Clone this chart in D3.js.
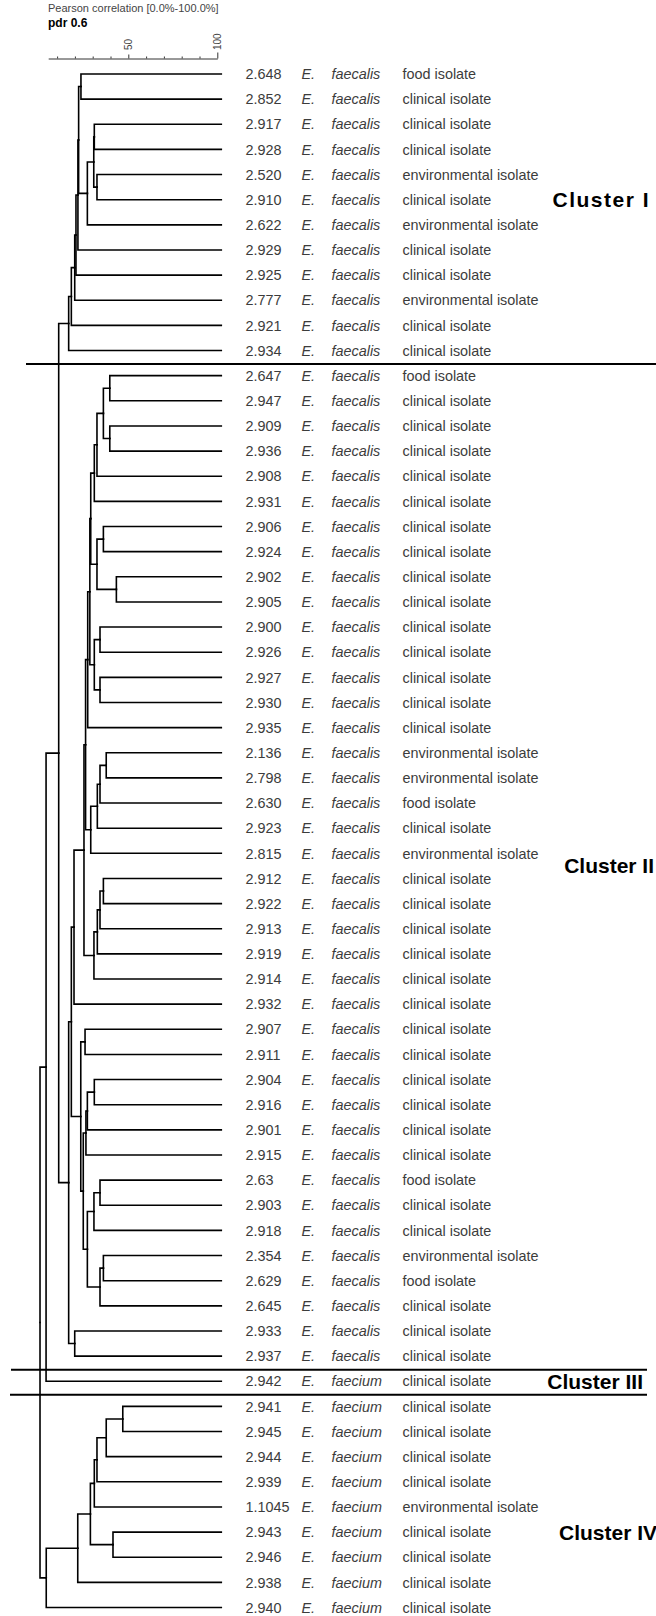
<html>

<head>
    <meta charset="utf-8">
    <title>Pearson correlation dendrogram</title>
    <style>
        body {
            margin: 0;
            padding: 0;
            background-color: #fff;
        }

        svg text {
            font-family: "Liberation Sans", Arial, sans-serif;
        }

        .row text {
            font-size: 14.4px;
            fill: #3c3c3c;
        }

        .row .it {
            font-style: italic;
        }

        .link {
            fill: none;
            stroke: #000;
            stroke-width: 1.6px;
            stroke-linecap: square;
        }

        .sep {
            stroke: #000;
            stroke-width: 2px;
        }

        .cluster-label {
            font-size: 21px;
            font-weight: bold;
            fill: #000;
            text-anchor: end;
        }

        .axis path,
        .axis line {
            stroke: #333;
        }
    </style>
</head>

<body>
    <svg id="chart" width="656" height="1616"></svg>
    <script src="https://cdn.jsdelivr.net/npm/d3@7"></script>
    <script>
        // strain numbers, top to bottom
        const strainIds = [
            "2.648", "2.852", "2.917", "2.928", "2.520", "2.910", "2.622", "2.929", "2.925", "2.777", "2.921", "2.934",
            "2.647", "2.947", "2.909", "2.936", "2.908", "2.931", "2.906", "2.924", "2.902", "2.905", "2.900", "2.926",
            "2.927", "2.930", "2.935", "2.136", "2.798", "2.630", "2.923", "2.815", "2.912", "2.922", "2.913", "2.919",
            "2.914", "2.932", "2.907", "2.911", "2.904", "2.916", "2.901", "2.915", "2.63", "2.903", "2.918", "2.354",
            "2.629", "2.645", "2.933", "2.937",
            "2.942",
            "2.941", "2.945", "2.944", "2.939", "1.1045", "2.943", "2.946", "2.938", "2.940"
        ];

        // F = faecalis, M = faecium
        const speciesCodes = "FFFFFFFFFFFF" + "FFFFFFFFFFFFFFFFFFFFFFFFFFFFFFFFFFFFFFFF" + "M" + "MMMMMMMMM";
        const speciesNames = { F: "faecalis", M: "faecium" };

        // c = clinical, e = environmental, f = food
        const sourceCodes = "fcccececcecc" +
            "f" + "cccccccccccccc" + "eefce" + "cccccccccccc" + "fccefccc" +
            "c" +
            "ccccecccc";
        const sourceNames = { c: "clinical isolate", e: "environmental isolate", f: "food isolate" };

        // linkage: [child a, child b, similarity %]; leaves are 0..61, merge i becomes node 62 + i
        const merges = [
            [0, 1, 23.4], [2, 3, 30.9], [4, 5, 32.4], [63, 64, 30.6], [65, 6, 27.0], [62, 66, 22.1],
            [67, 7, 21.7], [68, 8, 20.6], [69, 9, 19.9], [70, 10, 18.0], [71, 11, 16.5],
            [12, 13, 39.6], [14, 15, 39.6], [73, 74, 36.0], [75, 16, 32.4], [76, 17, 30.9],
            [18, 19, 36.0], [20, 21, 43.3], [78, 79, 32.4], [77, 80, 28.9],
            [22, 23, 34.1], [24, 25, 34.1], [82, 83, 30.9], [81, 84, 28.4], [85, 26, 27.2],
            [27, 28, 37.6], [87, 29, 34.1], [88, 30, 32.6], [89, 31, 28.9], [86, 90, 26.0],
            [32, 33, 36.0], [92, 34, 34.1], [93, 35, 32.6], [94, 36, 30.7], [91, 95, 25.1],
            [96, 37, 19.5],
            [38, 39, 25.7], [40, 41, 30.9], [99, 42, 27.0], [100, 43, 26.2],
            [44, 45, 34.1], [102, 46, 30.7], [47, 48, 36.0], [104, 49, 34.1], [103, 105, 27.0],
            [101, 106, 24.7], [98, 107, 23.3], [97, 108, 18.0],
            [50, 51, 19.9], [109, 110, 16.5],
            [72, 111, 10.9], [112, 52, 3.8],
            [53, 54, 46.9], [114, 55, 37.6], [115, 56, 32.4], [116, 57, 30.9], [58, 59, 41.4],
            [117, 118, 28.7], [119, 60, 21.6], [120, 61, 3.9],
            [113, 121, 0.4]
        ];

        const clusterNames = ["Cluster I", "Cluster II", "Cluster III", "Cluster IV"];
        const clusterFirstRow = [0, 12, 52, 53];
        const clusterLabelRow = [5, 31.5, 52, 58];

        const axisTicks = [10, 20, 30, 40, 50, 60, 70, 80, 90, 100];
        const axisLabels = [50, 100];

        // layout
        const svg = d3.select("#chart");
        const n = strainIds.length;
        const x = d3.scaleLinear().domain([0, 100]).range([39.3, 217.3]);
        const y = d3.scaleLinear().domain([0, n - 1]).range([74, 1607.5]);
        const leafEnd = x(100) + 4;
        const labelEnd = [650, 654, 643, 657];
        const labelSpacing = [1.5, 0, 0, 0];
        const sepStart = [26, 11, 10];
        const sepEnd = [656, 647, 647];

        // build tree from linkage
        const nodes = strainIds.map((id, i) => ({ row: i, h: 100 }));
        merges.forEach(m => nodes.push({ h: m[2], children: [nodes[m[0]], nodes[m[1]]] }));
        const root = d3.hierarchy(nodes[nodes.length - 1]);
        root.eachAfter(d => {
            d.py = d.children ? d3.mean(d.children, c => c.py) : y(d.data.row);
            d.px = d.children ? x(d.data.h) : leafEnd;
        });

        // header
        svg.append("text")
            .attr("x", 48).attr("y", 12)
            .style("font-size", "11px").style("fill", "#444")
            .text("Pearson correlation [0.0%-100.0%]");
        svg.append("text")
            .attr("x", 48).attr("y", 26.5)
            .style("font-size", "12px").style("font-weight", "bold")
            .text("pdr 0.6");

        // axis
        const axisScale = x.copy().domain([5, 100]).range([x(5), x(100)]);
        const axisG = svg.append("g")
            .attr("class", "axis")
            .attr("transform", "translate(0,58.5)")
            .call(d3.axisTop(axisScale).tickValues(axisTicks).tickSize(2).tickSizeOuter(0).tickFormat(""));
        axisG.selectAll(".tick line").filter(d => d === 100).attr("y2", -6);
        axisG.selectAll(".tick line").filter(d => d === 50).attr("y2", -4);

        svg.selectAll(".axis-label")
            .data(axisLabels)
            .enter()
            .append("text")
            .attr("class", "axis-label")
            .attr("transform", d => `translate(${x(d) + 3.5},50) rotate(-90)`)
            .style("font-size", "10px").style("fill", "#444")
            .text(d => d);

        // dendrogram links
        svg.append("g")
            .selectAll("path")
            .data(root.links())
            .enter()
            .append("path")
            .attr("class", "link")
            .attr("d", l => `M${l.source.px},${l.source.py}V${l.target.py}H${l.target.px}`);

        // rows
        const rows = svg.append("g")
            .selectAll("g")
            .data(strainIds)
            .enter()
            .append("g")
            .attr("class", "row")
            .attr("transform", (d, i) => `translate(0,${y(i)})`);
        rows.append("text").attr("x", 245.5).attr("dy", "0.36em").text(d => d);
        rows.append("text").attr("class", "it").attr("x", 301.5).attr("dy", "0.36em").text("E.");
        rows.append("text").attr("class", "it").attr("x", 331.5).attr("dy", "0.36em")
            .text((d, i) => speciesNames[speciesCodes[i]]);
        rows.append("text").attr("x", 402.5).attr("dy", "0.36em")
            .text((d, i) => sourceNames[sourceCodes[i]]);

        // cluster separators
        svg.selectAll(".sep")
            .data(clusterFirstRow.slice(1))
            .enter()
            .append("line")
            .attr("class", "sep")
            .attr("x1", (d, i) => sepStart[i])
            .attr("x2", (d, i) => sepEnd[i])
            .attr("y1", d => (y(d - 1) + y(d)) / 2 + 1)
            .attr("y2", d => (y(d - 1) + y(d)) / 2 + 1);

        // cluster labels
        svg.selectAll(".cluster-label")
            .data(clusterNames)
            .enter()
            .append("text")
            .attr("class", "cluster-label")
            .attr("x", (d, i) => labelEnd[i])
            .attr("y", (d, i) => y(clusterLabelRow[i]))
            .attr("dy", "0.36em")
            .style("letter-spacing", (d, i) => labelSpacing[i] + "px")
            .text(d => d);
    </script>
</body>

</html>
